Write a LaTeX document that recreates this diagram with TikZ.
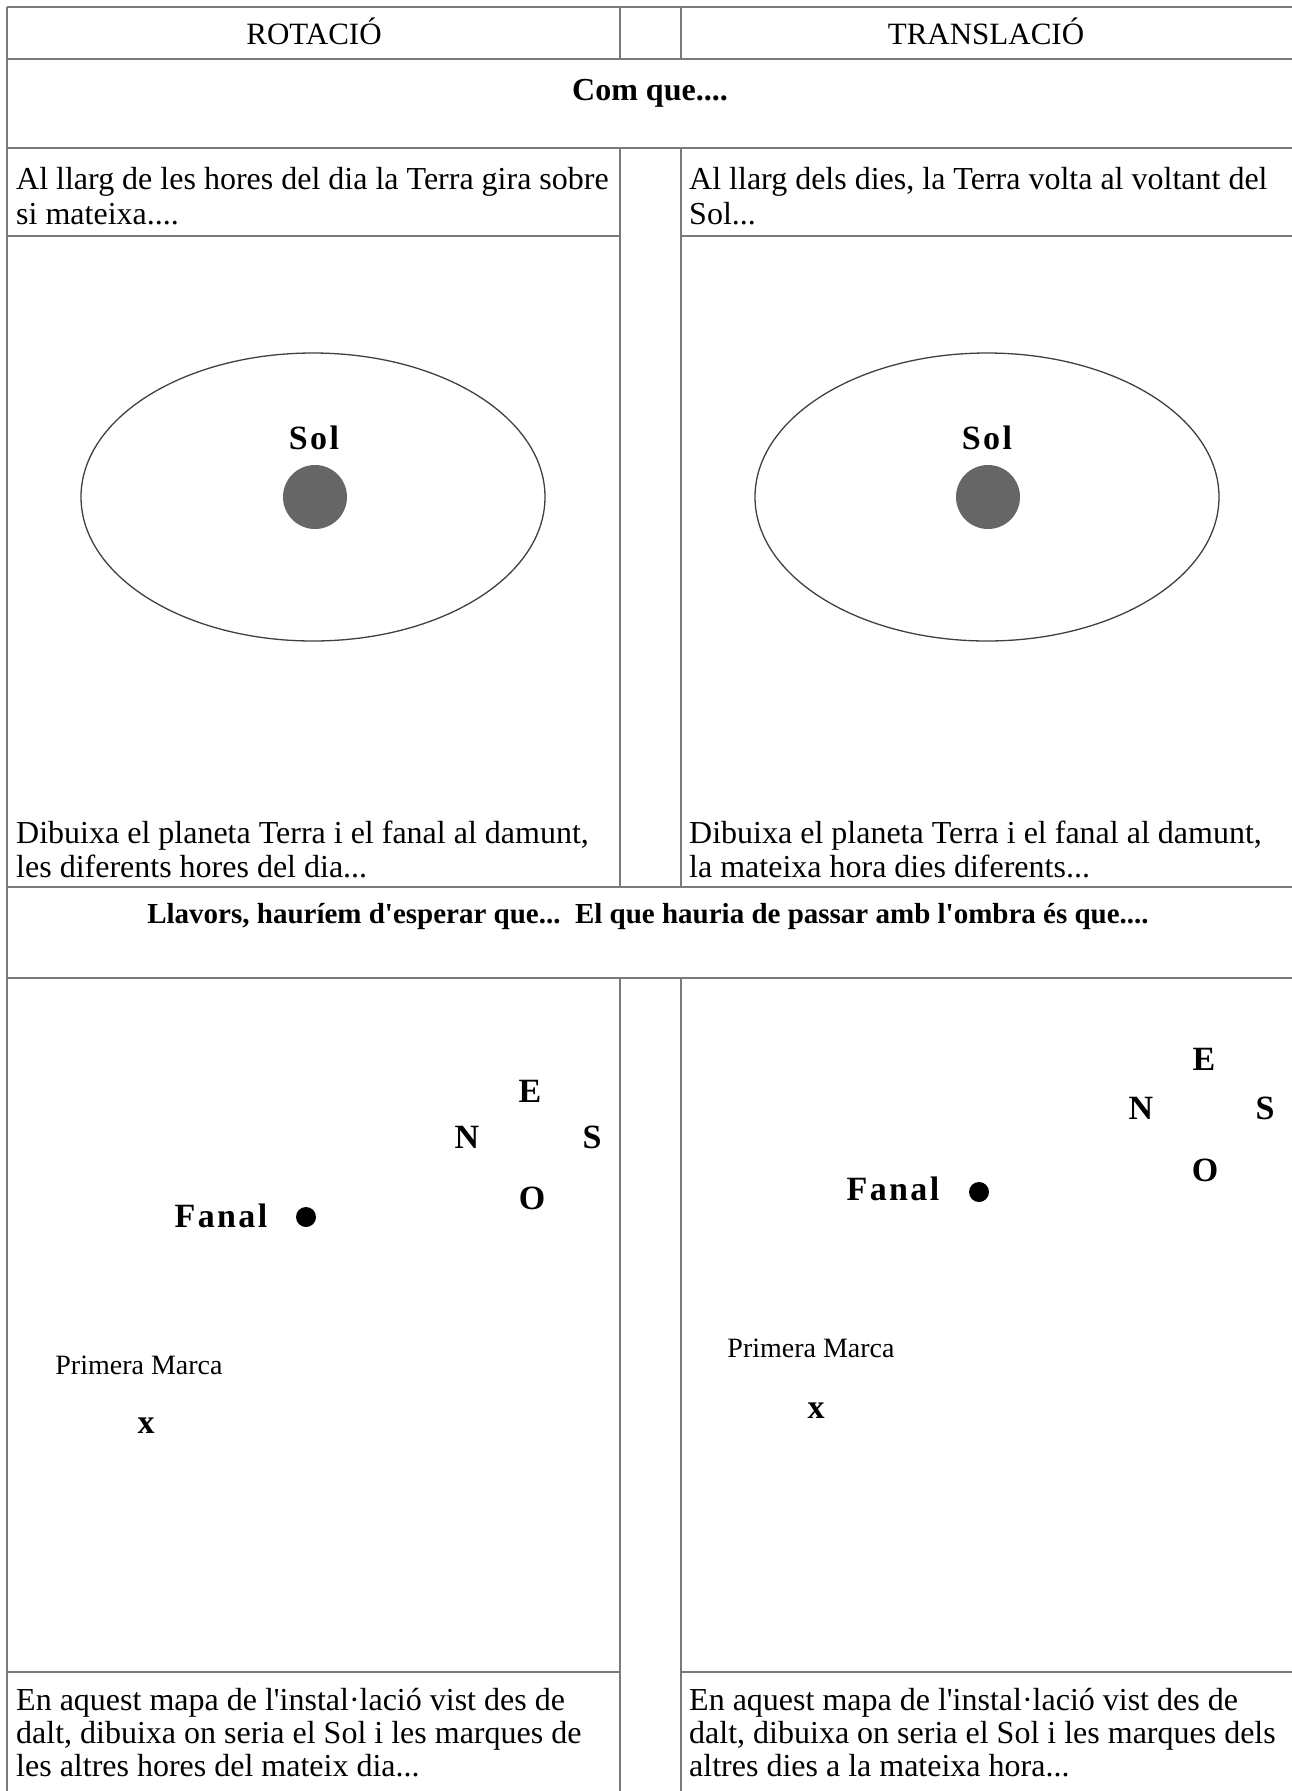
\documentclass[tikz,border=0pt]{standalone}
\usepackage{fontspec}
\newfontfamily\lib{Liberation Serif}
\newfontfamily\libsp{Liberation Serif}[LetterSpace=7]
\definecolor{gridc}{HTML}{7A7A7A}
\definecolor{sunc}{HTML}{666666}
\begin{document}
\begin{tikzpicture}[x=1pt,y=-1pt,
  gridline/.style={draw=gridc, line width=1.6pt},
  body/.style={font=\lib\fontsize{32}{34}\selectfont, inner sep=0pt, anchor=base west},
  head/.style={font=\lib\fontsize{31}{33}\selectfont, inner sep=0pt, anchor=base},
  boldhead/.style={font=\lib\bfseries\fontsize{32}{34}\selectfont, inner sep=0pt, anchor=base},
  lab/.style={font=\libsp\bfseries\fontsize{34}{36}\selectfont, inner sep=0pt},
  small/.style={font=\lib\fontsize{28}{30}\selectfont, inner sep=0pt},
  orbit/.style={draw=black!75, line width=1.3pt},
  sun/.style={circle, fill=sunc, inner sep=0pt, minimum size=64pt},
  lamp/.style={circle, fill=black, inner sep=0pt, minimum size=20pt}]
\fill[white] (0,0) rectangle (1292,1791);
\useasboundingbox (0,0) rectangle (1292,1791);
% table lines
\draw[gridline] (7,7) -- (1292,7);
\draw[gridline] (7,59) -- (1292,59);
\draw[gridline] (7,148) -- (1292,148);
\draw[gridline] (7,236) -- (620,236);
\draw[gridline] (681,236) -- (1292,236);
\draw[gridline] (7,887) -- (1292,887);
\draw[gridline] (7,978) -- (1292,978);
\draw[gridline] (7,1672) -- (620,1672);
\draw[gridline] (681,1672) -- (1292,1672);
\draw[gridline] (7,7) -- (7,1791);
\draw[gridline] (620,7) -- (620,59) (620,148) -- (620,887) (620,978) -- (620,1791);
\draw[gridline] (681,7) -- (681,59) (681,148) -- (681,887) (681,978) -- (681,1791);
% headers
\node[head] (rot) at (314,44) {ROTACIÓ};
\node[head] (tra) at (986,44) {TRANSLACIÓ};
\node[boldhead] (comque) at (650,100) {Com que....};
% row texts
\node[body] (ta1) at (16,189) {Al llarg de les hores del dia la Terra gira sobre};
\node[body] (ta2) at (16,224) {si mateixa....};
\node[body] (tb1) at (689,189) {Al llarg dels dies, la Terra volta al voltant del};
\node[body] (tb2) at (689,224) {Sol...};
% orbits
\draw[orbit] (313,497) ellipse [x radius=232, y radius=144];
\node[sun] (sun1) at (315,497) {};
\node[lab] (sol1) at (314,438) {Sol};
\draw[orbit] (987,497) ellipse [x radius=232, y radius=144];
\node[sun] (sun2) at (988,497) {};
\node[lab] (sol2) at (987,438) {Sol};
\node[body] (da1) at (16,843) {Dibuixa el planeta Terra i el fanal al damunt,};
\node[body] (da2) at (16,877) {les diferents hores del dia...};
\node[body] (db1) at (689,843) {Dibuixa el planeta Terra i el fanal al damunt,};
\node[body] (db2) at (689,877) {la mateixa hora dies diferents...};
\node[boldhead, font=\lib\bfseries\fontsize{29}{32}\selectfont] (llav) at (648,923) {Llavors, hauríem d'esperar que...\ \ El que hauria de passar amb l'ombra és que....};
% lower left map
\node[lab] (e1) at (530,1091) {E};
\node[lab] (n1) at (467,1137) {N};
\node[lab] (s1) at (592,1137) {S};
\node[lab] (o1) at (532,1198) {O};
\node[lab] (fan1) at (221,1216) {Fanal};
\node[lamp] (lamp1) at (306,1217) {};
\node[small] (pm1) at (139,1365) {Primera Marca};
\node[lab] (x1) at (146,1426) {x};
% lower right map
\node[lab] (e2) at (1204,1059) {E};
\node[lab] (n2) at (1141,1108) {N};
\node[lab] (s2) at (1265,1108) {S};
\node[lab] (o2) at (1205,1170) {O};
\node[lab] (fan2) at (893,1189) {Fanal};
\node[lamp] (lamp2) at (979,1192) {};
\node[small] (pm2) at (811,1348) {Primera Marca};
\node[lab] (x2) at (816,1411) {x};
% bottom texts
\node[body] (ea1) at (16,1710) {En aquest mapa de l'instal·lació vist des de};
\node[body] (ea2) at (16,1743) {dalt, dibuixa on seria el Sol i les marques de};
\node[body] (ea3) at (16,1776) {les altres hores del mateix dia...};
\node[body] (eb1) at (689,1710) {En aquest mapa de l'instal·lació vist des de};
\node[body] (eb2) at (689,1743) {dalt, dibuixa on seria el Sol i les marques dels};
\node[body] (eb3) at (689,1776) {altres dies a la mateixa hora...};
\end{tikzpicture}
\end{document}
